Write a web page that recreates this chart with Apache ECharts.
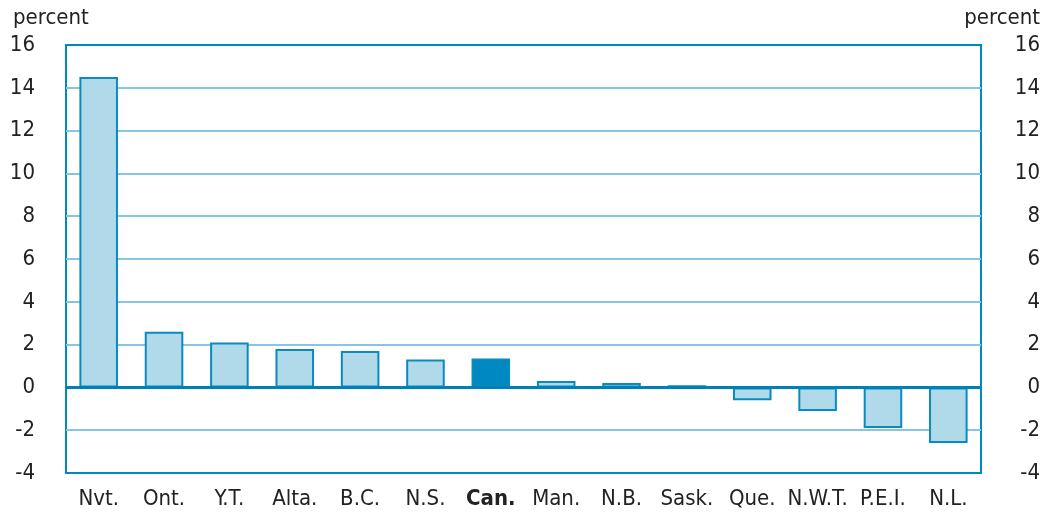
<!DOCTYPE html>
<html>
<head>
<meta charset="utf-8">
<script src="https://cdn.jsdelivr.net/npm/echarts@6/dist/echarts.min.js"></script>
<style>
  html, body { margin: 0; padding: 0; background: #fff; }
  #chart { width: 1058px; height: 513px; }
</style>
</head>
<body>
<div id="chart"></div>
<script>
// regions, sorted as in the chart
var regions = ['Nvt.', 'Ont.', 'Y.T.', 'Alta.', 'B.C.', 'N.S.', 'Can.', 'Man.', 'N.B.', 'Sask.', 'Que.', 'N.W.T.', 'P.E.I.', 'N.L.'];
// percent change
var values = [14.5, 2.6, 2.1, 1.8, 1.7, 1.3, 1.35, 0.3, 0.2, 0.1, -0.6, -1.1, -1.9, -2.6];
var highlight = 'Can.';

var FONT = 'DejaVu Sans Condensed, sans-serif';
var FSIZE = 22;
var BLUE = '#0a8bbf';

var myChart = echarts.init(document.getElementById('chart'));

var barData = [];
regions.forEach(function(r, i){
    if (r === highlight) {
        barData.push({ value: values[i], itemStyle: { color: '#0088c0' } });
    } else {
        barData.push(values[i]);
    }
});

var yLabel = {
    fontFamily: FONT, fontSize: FSIZE, color: '#222'
};

var option = {
    animation: false,
    grid: {
        left: 66, right: 77, top: 45, bottom: 40,
        outerBoundsMode: 'none',
        show: true, borderColor: '#0088c0', borderWidth: 2, backgroundColor: 'transparent'
    },
    graphic: [
        { type: 'text', left: 13, top: 7, style: { text: 'percent', fontFamily: FONT, fontSize: FSIZE, fill: '#222' } },
        { type: 'text', right: 18, top: 7, style: { text: 'percent', fontFamily: FONT, fontSize: FSIZE, fill: '#222' } }
    ],
    xAxis: {
        type: 'category',
        data: regions,
        axisLine: { onZero: false, show: false },
        axisTick: { show: false },
        axisLabel: {
            interval: 0, margin: 15, fontFamily: FONT, fontSize: FSIZE, color: '#222',
            formatter: function(v){ return v === highlight ? '{b|' + v + '}' : v; },
            rich: { b: { fontFamily: FONT, fontSize: FSIZE, fontWeight: 'bold', color: '#222' } }
        }
    },
    yAxis: [{
        type: 'value', min: -4, max: 16, interval: 2, position: 'left',
        axisLine: { show: false }, axisTick: { show: false },
        axisLabel: Object.assign({ margin: 31, align: 'right' }, yLabel),
        splitLine: { showMinLine: false, showMaxLine: false, lineStyle: { color: '#86c6e2', width: 2 } }
    }, {
        type: 'value', min: -4, max: 16, interval: 2, position: 'right',
        axisLine: { show: false }, axisTick: { show: false },
        axisLabel: Object.assign({ margin: 59, align: 'right' }, yLabel),
        splitLine: { show: false }
    }],
    series: [{
        type: 'bar',
        data: barData,
        barWidth: '59%',
        itemStyle: { color: '#b0d9ea', borderColor: BLUE, borderWidth: 2 },
        markLine: {
            silent: true, symbol: 'none', label: { show: false },
            lineStyle: { color: '#0080b8', width: 3, type: 'solid' },
            data: [{ yAxis: 0 }]
        }
    }]
};
myChart.setOption(option);
</script>
</body>
</html>
